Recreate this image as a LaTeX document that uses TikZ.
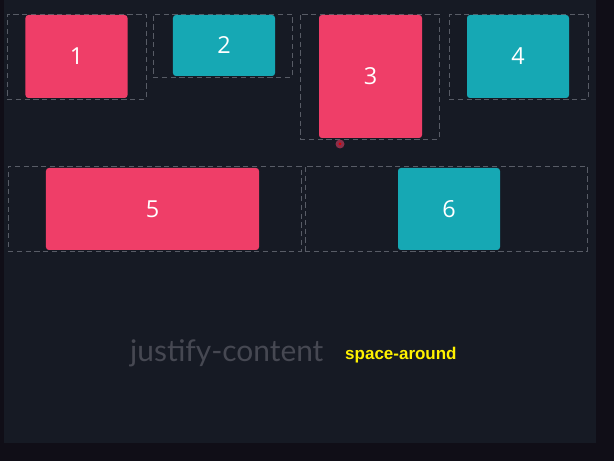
\documentclass[tikz,border=0pt]{standalone}
\usepackage{fontspec}
\setmainfont{Open Sans}
\newfontfamily\titlefont{Lato}
\newfontfamily\tagfont{Liberation Sans}
\definecolor{pagebg}{RGB}{22,26,36}
\definecolor{edgebg}{RGB}{16,14,23}
\definecolor{slotline}{RGB}{88,92,102}
\definecolor{itemred}{RGB}{239,62,104}
\definecolor{itemteal}{RGB}{22,168,180}
\definecolor{titlegray}{RGB}{70,72,82}
\begin{document}
\begin{tikzpicture}[x=0.03cm, y=-0.03cm,
    slot/.style={draw=slotline, line width=0.8pt, dash pattern=on 4.5pt off 3pt, inner sep=0pt, outer sep=0pt},
    item/.style={rounded corners=2.5pt, inner sep=0pt, outer sep=0pt, text=white, font=\fontsize{20}{24}\selectfont},
    red item/.style={item, fill=itemred},
    teal item/.style={item, fill=itemteal}]
    % background
    \fill[edgebg] (0, 0) rectangle (614, 461);
    \fill[pagebg] (4, 0) rectangle (596, 443);

    % dashed slots
    \node[slot, minimum width=4.17cm, minimum height=2.55cm] (slot1) at (76.5, 56.5) {};
    \node[slot, minimum width=4.17cm, minimum height=1.89cm] (slot2) at (222.5, 45.5) {};
    \node[slot, minimum width=4.17cm, minimum height=3.75cm] (slot3) at (369.5, 76.5) {};
    \node[slot, minimum width=4.17cm, minimum height=2.55cm] (slot4) at (518.5, 56.5) {};
    \node[slot, minimum width=8.79cm, minimum height=2.55cm] (slot5) at (154.5, 208.5) {};
    \node[slot, minimum width=8.46cm, minimum height=2.55cm] (slot6) at (446, 208.5) {};

    % flex items
    \node[red item, minimum width=3.06cm, minimum height=2.49cm] (item1) at (slot1) {1};
    \node[teal item, minimum width=3.06cm, minimum height=1.83cm] (item2) at (224, 45.5) {2};
    \node[red item, minimum width=3.09cm, minimum height=3.69cm] (item3) at (370.5, 76.5) {3};
    \node[teal item, minimum width=3.06cm, minimum height=2.49cm] (item4) at (518, 56.5) {4};
    \node[red item, minimum width=6.39cm, minimum height=2.46cm] (item5) at (152.5, 209) {5};
    \node[teal item, minimum width=3.06cm, minimum height=2.46cm] (item6) at (449, 209) {6};

    % pointer mark
    \fill[itemred!55!pagebg] (340, 144) circle (4.5);
    \fill[red!85!black] (340, 144) circle (1.5);

    % caption
    \node[anchor=base west, inner sep=0pt, text=titlegray, font=\titlefont\fontsize{25.5}{30}\selectfont] (title) at (130, 362) {justify-content};
    \node[anchor=base west, inner sep=0pt, text=yellow, font=\tagfont\bfseries\fontsize{14.5}{17}\selectfont] (value) at (345, 360) {space-around};
\end{tikzpicture}
\end{document}
